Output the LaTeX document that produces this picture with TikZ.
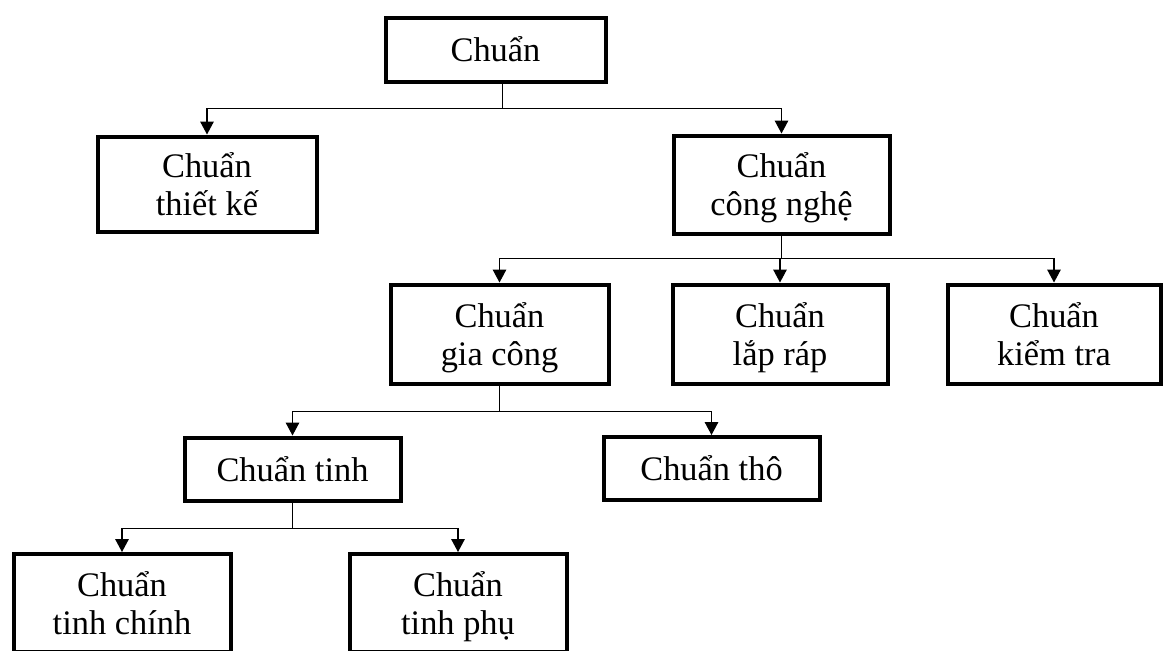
\documentclass[tikz,border=0pt]{standalone}
\usepackage{fontspec}
\setmainfont{Liberation Serif}
\usepackage{tikz}
\usetikzlibrary{arrows.meta, positioning}

\begin{document}
\begin{tikzpicture}[
    x=0.5pt, y=-0.5pt,
    box/.style={draw, line width=2pt, inner sep=0pt, minimum width=108pt, minimum height=49pt, text depth=0pt, align=center, font=\fontsize{17.2}{19}\selectfont},
    flatbox/.style={box, minimum height=31.5pt},
    arrow/.style={-{Triangle[length=6.5pt, width=6.8pt]}, line width=0.6pt},
    link/.style={line width=0.6pt}
]
    \useasboundingbox (0,0) rectangle (1173,650);
    \clip (0,0) rectangle (1173,650);

    \node[flatbox, minimum width=110pt, minimum height=32pt] (root) at (495.5,49.5) {Chuẩn};
    \node[box, minimum width=109.5pt, minimum height=47.5pt] (design) at (207,184) {Chuẩn\\thiết kế};
    \node[box] (tech) at (781.5,184.5) {Chuẩn\\công nghệ};
    \node[box, minimum width=109pt, minimum height=49.5pt] (machining) at (499.5,334) {Chuẩn\\gia công};
    \node[box, minimum width=107.5pt, minimum height=49.5pt] (assembly) at (780,334) {Chuẩn\\lắp ráp};
    \node[box, minimum width=106.5pt, minimum height=49.5pt] (inspect) at (1054,334) {Chuẩn\\kiểm tra};
    \node[flatbox] (fine) at (292.5,469) {Chuẩn tinh};
    \node[flatbox] (rough) at (711.5,468.5) {Chuẩn thô};
    \node[box, minimum width=108.5pt] (finemain) at (122,603) {Chuẩn\\tinh chính};
    \node[box, minimum width=108.5pt] (fineaux) at (458,603) {Chuẩn\\tinh phụ};

    \draw[link] ([xshift=3.5pt]root.south) -- ++(0,25) coordinate (bus1);
    \draw[arrow] (bus1) -| (design.north);
    \draw[arrow] (bus1) -| (tech.north);

    \draw[link] (tech.south) -- ++(0,23) coordinate (bus2);
    \draw[arrow] (bus2) -| (machining.north);
    \draw[arrow] (bus2) -| (assembly.north);
    \draw[arrow] (bus2) -| (inspect.north);

    \draw[link] (machining.south) -- ++(0,26) coordinate (bus3);
    \draw[arrow] (bus3) -| (fine.north);
    \draw[arrow] (bus3) -| (rough.north);

    \draw[link] (fine.south) -- ++(0,26) coordinate (bus4);
    \draw[arrow] (bus4) -| (finemain.north);
    \draw[arrow] (bus4) -| (fineaux.north);
\end{tikzpicture}
\end{document}
